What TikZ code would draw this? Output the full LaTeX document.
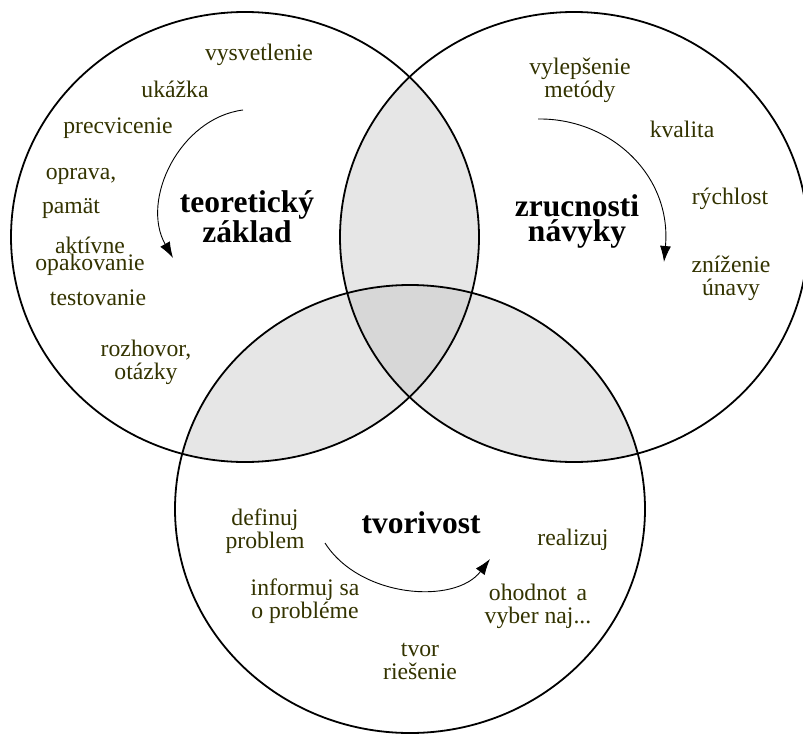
\documentclass[tikz,border=0pt]{standalone}
\usepackage{fontspec}
\setmainfont{Liberation Serif}
\usetikzlibrary{arrows.meta}
\definecolor{labelolive}{RGB}{51,51,0}
\definecolor{pairgray}{RGB}{230,230,230}
\definecolor{triplegray}{RGB}{215,215,215}
\begin{document}
\begin{tikzpicture}[x=1pt,y=-1pt,
  ring/.style={draw=black,line width=1.8pt},
  flow/.style={draw=black,line width=0.9pt,-{Latex[length=16pt,width=11pt]}},
  lbl/.style={text=labelolive,font=\fontsize{23.7}{23}\selectfont,align=center,anchor=base,inner sep=0pt},
  tight/.style={font=\fontsize{23.7}{17}\selectfont},
  ttl/.style={text=black,font=\fontsize{31.5}{24.5}\selectfont\bfseries,align=center,anchor=base,inner sep=0pt}]
\useasboundingbox (0,0) rectangle (803,736);

% the three sets
\def\setL{(245,237) ellipse [x radius=234pt, y radius=225pt]}
\def\setR{(574,237) ellipse [x radius=234pt, y radius=225pt]}
\def\setB{(410,509) ellipse [x radius=235pt, y radius=224pt]}

% pairwise overlaps
\begin{scope}
  \clip \setL;
  \fill[pairgray] \setR;
  \fill[pairgray] \setB;
\end{scope}
\begin{scope}
  \clip \setR;
  \fill[pairgray] \setB;
\end{scope}
% overlap of all three
\begin{scope}
  \clip \setL;
  \clip \setR;
  \fill[triplegray] \setB;
\end{scope}

\draw[ring] \setL;
\draw[ring] \setR;
\draw[ring] \setB;

% left set: theory (multi-line nodes sit on the baseline of their last line)
\node[ttl] (teo) at (247,242) {teoretický\\základ};
\node[lbl] (vys) at (259,60) {vysvetlenie};
\node[lbl] (uka) at (175,97) {ukážka};
\node[lbl] (pre) at (118,133) {precvicenie};
\node[lbl] (opr) at (81,179) {oprava,};
\node[lbl] (pam) at (71,213) {pamät};
\node[lbl,tight] (akt) at (90,270) {aktívne\\opakovanie};
\node[lbl] (tes) at (98,305) {testovanie};
\node[lbl] (roz) at (146,379) {rozhovor,\\otázky};
\coordinate (teoS) at (243,110);
\coordinate (teoE) at (173,258);
\draw[flow] (teoS) .. controls (180,118) and (140,200) .. (teoE);

% right set: skills
\node[ttl] (zru) at (577,241) {zrucnosti\\návyky};
\node[lbl] (vyl) at (580,97) {vylepšenie\\metódy};
\node[lbl] (kva) at (682,137) {kvalita};
\node[lbl] (ryc) at (730,204) {rýchlost};
\node[lbl] (zni) at (731,295) {zníženie\\únavy};
\coordinate (zruS) at (538,119);
\coordinate (zruE) at (664,262);
\draw[flow] (zruS) .. controls (610,118) and (672,175) .. (zruE);

% bottom set: creativity
\node[ttl] (tvo) at (421,533) {tvorivost};
\node[lbl] (def) at (265,548) {definuj\\problem};
\node[lbl] (rea) at (573,545) {realizuj};
\node[lbl,tight] (inf) at (305,618) {informuj sa\\o probléme};
\node[lbl] (oho) at (538,623) {ohodnot\hspace{0.42em}a\\vyber naj...};
\node[lbl] (tvr) at (420,679) {tvor\\riešenie};
\coordinate (tvoS) at (325,543);
\coordinate (tvoE) at (490,559);
\draw[flow] (tvoS) .. controls (360,598) and (455,605) .. (tvoE);
\end{tikzpicture}
\end{document}
